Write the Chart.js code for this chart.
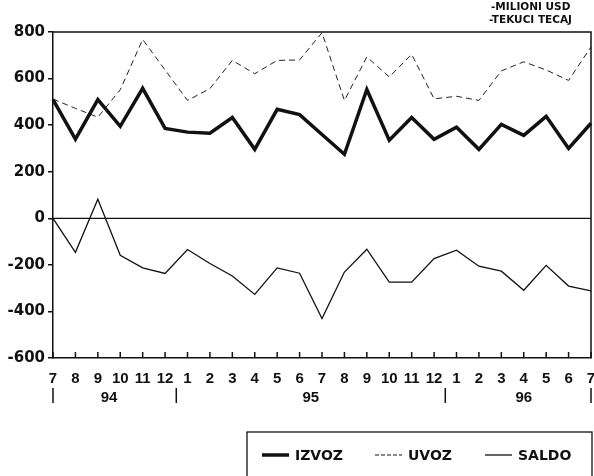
<!DOCTYPE html>
<html>
<head>
<meta charset="utf-8">
<script src="https://cdn.jsdelivr.net/npm/chart.js@4.4.1/dist/chart.umd.min.js"></script>
<style>
  html, body { margin: 0; padding: 0; background: #fff; }
  #wrap { position: relative; width: 594px; height: 476px; }
</style>
</head>
<body>
<div id="wrap"><canvas id="trade" width="594" height="476"></canvas></div>
<script>
// months 7/94 .. 7/96
const months = ['7','8','9','10','11','12','1','2','3','4','5','6','7','8','9','10','11','12','1','2','3','4','5','6','7'];
const izvoz = [510, 340, 510, 395, 558, 386, 370, 365, 433, 296, 468, 445, 360, 275, 553, 335, 433, 339, 391, 296, 403, 356, 438, 300, 408];
const uvoz  = [512, 472, 434, 552, 768, 637, 506, 557, 678, 621, 678, 680, 797, 506, 693, 607, 704, 513, 524, 506, 633, 672, 637, 592, 736];
const saldo = [0, -146, 82, -159, -213, -237, -134, -194, -248, -327, -213, -236, -430, -231, -133, -274, -274, -173, -137, -206, -227, -309, -202, -291, -312];
const years = ['94', '95', '96'];
const yearStart = [0, 6, 18]; // index of first month in each year
const notes = ['-MILIONI USD', '-TEKUCI TECAJ'];

const yFont = '"DejaVu Sans", sans-serif';
const xFont = '"Liberation Sans", Arial, sans-serif';

const extras = {
  id: 'extras',
  beforeDatasetsDraw(chart) {
    const { ctx, chartArea: a, scales: { y } } = chart;
    ctx.save();
    ctx.strokeStyle = '#111';
    ctx.lineWidth = 1.3;
    const y0 = y.getPixelForValue(0);
    ctx.beginPath();
    ctx.moveTo(a.left, y0);
    ctx.lineTo(a.right, y0);
    ctx.stroke();
    ctx.restore();
  },
  afterDraw(chart) {
    const { ctx, chartArea: a, scales: { x } } = chart;
    ctx.save();
    ctx.strokeStyle = '#111';
    ctx.fillStyle = '#111';
    // frame top + right
    ctx.lineWidth = 1.5;
    ctx.beginPath();
    ctx.moveTo(a.left, a.top);
    ctx.lineTo(a.right, a.top);
    ctx.lineTo(a.right, a.bottom);
    ctx.stroke();
    // inner x ticks
    months.forEach((m, i) => {
      const px = x.getPixelForValue(i);
      ctx.beginPath();
      ctx.moveTo(px, a.bottom);
      ctx.lineTo(px, a.bottom - 6);
      ctx.stroke();
    });
    // year separators and labels
    const bounds = [x.getPixelForValue(0)];
    for (let k = 1; k < yearStart.length; k++) {
      bounds.push((x.getPixelForValue(yearStart[k] - 1) + x.getPixelForValue(yearStart[k])) / 2);
    }
    bounds.push(x.getPixelForValue(months.length - 1));
    bounds.forEach(bx => {
      ctx.beginPath();
      ctx.moveTo(bx, 388);
      ctx.lineTo(bx, 403);
      ctx.stroke();
    });
    ctx.font = 'bold 15px ' + xFont;
    ctx.textAlign = 'center';
    ctx.textBaseline = 'middle';
    years.forEach((yr, k) => {
      const first = yearStart[k];
      const last = k + 1 < yearStart.length ? yearStart[k + 1] - 1 : months.length - 1;
      const cx = (x.getPixelForValue(first) + x.getPixelForValue(last)) / 2;
      ctx.fillText(yr, cx, 398);
    });
    // legend box
    ctx.lineWidth = 1.3;
    ctx.strokeRect(247, 432, 345, 60);
    ctx.font = 'bold 14px ' + yFont;
    ctx.textAlign = 'left';
    const lx = [262, 375, 485];
    chart.data.datasets.forEach((ds, i) => {
      ctx.beginPath();
      ctx.lineWidth = ds.borderWidth;
      ctx.setLineDash(i === 1 ? [4, 2] : []);
      ctx.moveTo(lx[i], 455);
      ctx.lineTo(lx[i] + 27, 455);
      ctx.stroke();
      ctx.setLineDash([]);
      ctx.fillText(ds.label, lx[i] + 33, 456);
    });
    // unit notes
    ctx.font = 'bold 10.5px ' + yFont;
    ctx.fillText(notes[0], 491, 7);
    ctx.fillText(notes[1], 489, 20);
    ctx.restore();
  }
};

new Chart(document.getElementById('trade'), {
  type: 'line',
  data: {
    labels: months,
    datasets: [
      { label: 'IZVOZ', data: izvoz, borderColor: '#111', borderWidth: 3.5, pointRadius: 0, tension: 0 },
      { label: 'UVOZ', data: uvoz, borderColor: '#222', borderWidth: 1, borderDash: [6, 4], pointRadius: 0, tension: 0 },
      { label: 'SALDO', data: saldo, borderColor: '#111', borderWidth: 1.3, pointRadius: 0, tension: 0 }
    ]
  },
  options: {
    responsive: false,
    animation: false,
    layout: { padding: { left: 0, top: 32, right: 3, bottom: 0 } },
    plugins: { legend: { display: false }, tooltip: { enabled: false } },
    scales: {
      x: {
        offset: false,
        grid: { display: false, drawTicks: false },
        border: { display: true, color: '#111', width: 1.5 },
        ticks: { autoSkip: false, maxRotation: 0, padding: 12, color: '#111', font: { family: xFont, size: 15, weight: 'bold' } },
        afterFit(scale) { scale.height = 118; scale.paddingLeft = 0; scale.paddingRight = 0; }
      },
      y: {
        min: -600,
        max: 800,
        grid: { drawOnChartArea: false, drawTicks: true, tickLength: 5, color: '#111', lineWidth: 1.5 },
        border: { display: true, color: '#111', width: 1.5 },
        ticks: { stepSize: 200, padding: 3, color: '#111', font: { family: yFont, size: 15, weight: 'bold' } },
        afterFit(scale) { scale.width = 53; scale.paddingTop = 0; scale.paddingBottom = 0; }
      }
    }
  },
  plugins: [extras]
});
</script>
</body>
</html>
